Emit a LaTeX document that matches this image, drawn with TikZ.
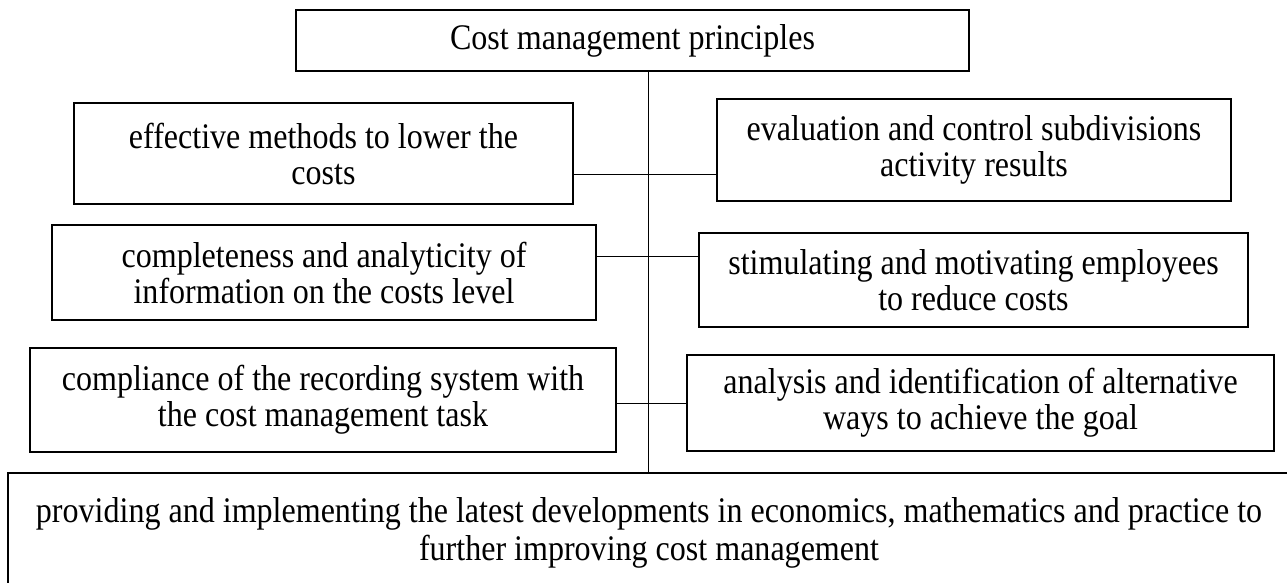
\documentclass[tikz,border=0pt]{standalone}
\usepackage{fontspec}
\setmainfont{Liberation Serif}
\newfontfamily\boxfont[FakeStretch=0.89]{Liberation Serif}
\begin{document}
\begin{tikzpicture}[x=1pt,y=-1pt,
  box/.style={draw, line width=2pt, inner sep=0pt, align=center,
    font=\boxfont\fontsize{36}{36}\selectfont},
  link/.style={line width=1pt}]
\useasboundingbox (0,0) rectangle (1287,582);
\node[box, minimum width=673pt, minimum height=61pt] (top) at (632.5,40.5) {Cost management principles};
\node[box, minimum width=499pt, minimum height=101pt] (L1) at (323.5,153.5) {effective methods to lower the\\costs};
\node[box, minimum width=514pt, minimum height=102pt] (R1) at (974,150) {evaluation and control subdivisions\\activity results};
\node[box, minimum width=544pt, minimum height=95pt] (L2) at (324,272.5) {completeness and analyticity of\\information on the costs level};
\node[box, minimum width=549pt, minimum height=94pt] (R2) at (973.5,280) {stimulating and motivating employees\\to reduce costs};
\node[box, minimum width=586pt, minimum height=104pt] (L3) at (323,400) {compliance of the recording system with\\the cost management task};
\node[box, minimum width=587pt, minimum height=96pt] (R3) at (980.5,403) {analysis and identification of alternative\\ways to achieve the goal};
\node[box, minimum width=1282pt, minimum height=120pt, font=\boxfont\fontsize{36}{38}\selectfont] (B) at (649,533) {providing and implementing the latest developments in economics, mathematics and practice to\\further improving cost management};
\coordinate (v) at (648,0);
\coordinate (j1) at (648,174);
\coordinate (j2) at (648,256);
\coordinate (j3) at (648,403);
\draw[link] (top.south -| v) -- (B.north -| v);
\draw[link] (L1.east |- j1) -- (R1.west |- j1);
\draw[link] (L2.east |- j2) -- (R2.west |- j2);
\draw[link] (L3.east |- j3) -- (R3.west |- j3);
\end{tikzpicture}
\end{document}
